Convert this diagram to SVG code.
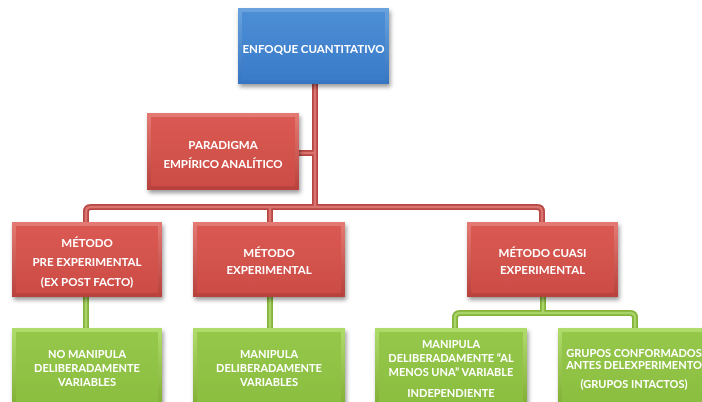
<svg xmlns="http://www.w3.org/2000/svg" width="702" height="402" viewBox="0 0 702 402">
<style>
text{font-family:Lato,"Liberation Sans",sans-serif;font-weight:bold;fill:#fff;text-anchor:middle;dominant-baseline:central}
.t{font-size:11.5px}
.s{font-size:11px}
.redline{fill:none;stroke:#b84743;stroke-width:6;stroke-linejoin:round}
.redin{fill:none;stroke:#d97470;stroke-width:2.5;stroke-linejoin:round}
.grnline{fill:none;stroke:#86b33a;stroke-width:6;stroke-linejoin:round}
.grnin{fill:none;stroke:#a9d46a;stroke-width:2.5;stroke-linejoin:round}
</style>
<defs>
<linearGradient id="gb" x1="0" y1="0" x2="0" y2="1"><stop offset="0" stop-color="#6aa3de"/><stop offset="1" stop-color="#3575c2"/></linearGradient>
<linearGradient id="gbf" x1="0" y1="0" x2="0" y2="1"><stop offset="0" stop-color="#4d8ed6"/><stop offset="1" stop-color="#3a7bc8"/></linearGradient>
<linearGradient id="gr" x1="0" y1="0" x2="0" y2="1"><stop offset="0" stop-color="#e57a74"/><stop offset="1" stop-color="#b8413c"/></linearGradient>
<linearGradient id="grf" x1="0" y1="0" x2="0" y2="1"><stop offset="0" stop-color="#da5a53"/><stop offset="1" stop-color="#cc4c46"/></linearGradient>
<linearGradient id="gg" x1="0" y1="0" x2="0" y2="1"><stop offset="0" stop-color="#b0dc6c"/><stop offset="1" stop-color="#7fae34"/></linearGradient>
<linearGradient id="ggf" x1="0" y1="0" x2="0" y2="1"><stop offset="0" stop-color="#95c74a"/><stop offset="1" stop-color="#8abd3f"/></linearGradient>
<filter id="sh" x="-10%" y="-10%" width="130%" height="140%"><feDropShadow dx="1.5" dy="3" stdDeviation="2" flood-color="#000" flood-opacity="0.4"/></filter>
</defs>
<g id="connectors">
<path class="redline" d="M315,84V207M299,153H315M86,222V212Q86,207 91,207H537Q542,207 542,212V222M270,207V222"/>
<path class="redin" d="M315,84V207M299,153H315M86,222V212Q86,207 91,207H537Q542,207 542,212V222M270,207V222"/>
<path class="grnline" d="M86,297V328M270,297V328M543,297V313M455,328V318Q455,313 460,313H630Q635,313 635,318V328"/>
<path class="grnin" d="M86,297V328M270,297V328M543,297V313M455,328V318Q455,313 460,313H630Q635,313 635,318V328"/>
</g>
<g id="enfoque" filter="url(#sh)">
<rect x="238" y="8" width="151" height="76" fill="url(#gb)"/>
<rect x="242" y="12" width="143" height="68" fill="url(#gbf)"/>
<text class="t" x="313.5" y="48">ENFOQUE CUANTITATIVO</text>
</g>
<g id="paradigma" filter="url(#sh)">
<rect x="147" y="113" width="152" height="77" fill="url(#gr)"/>
<rect x="151" y="117" width="144" height="69" fill="url(#grf)"/>
<text class="t" x="223" y="144">PARADIGMA</text>
<text class="t" x="223" y="163">EMPÍRICO ANALÍTICO</text>
</g>
<g id="pre" filter="url(#sh)">
<rect x="12" y="222" width="150" height="75" fill="url(#gr)"/>
<rect x="16" y="226" width="142" height="67" fill="url(#grf)"/>
<text class="t" x="87" y="242">MÉTODO</text>
<text class="t" x="87" y="261">PRE EXPERIMENTAL</text>
<text class="t" x="87" y="281">(EX POST FACTO)</text>
</g>
<g id="experimental" filter="url(#sh)">
<rect x="193" y="222" width="152" height="75" fill="url(#gr)"/>
<rect x="197" y="226" width="144" height="67" fill="url(#grf)"/>
<text class="t" x="269" y="252">MÉTODO</text>
<text class="t" x="269" y="269">EXPERIMENTAL</text>
</g>
<g id="cuasi" filter="url(#sh)">
<rect x="467" y="222" width="151" height="75" fill="url(#gr)"/>
<rect x="471" y="226" width="143" height="67" fill="url(#grf)"/>
<text class="t" x="542.5" y="252">MÉTODO CUASI</text>
<text class="t" x="542.5" y="269">EXPERIMENTAL</text>
</g>
<g id="nomanipula" filter="url(#sh)">
<rect x="12" y="328" width="150" height="80" fill="url(#gg)"/>
<rect x="16" y="332" width="142" height="80" fill="url(#ggf)"/>
<text class="s" x="87" y="353">NO MANIPULA</text>
<text class="s" x="87" y="367">DELIBERADAMENTE</text>
<text class="s" x="87" y="381">VARIABLES</text>
</g>
<g id="manipula" filter="url(#sh)">
<rect x="193" y="328" width="152" height="80" fill="url(#gg)"/>
<rect x="197" y="332" width="144" height="80" fill="url(#ggf)"/>
<text class="s" x="269" y="353">MANIPULA</text>
<text class="s" x="269" y="367">DELIBERADAMENTE</text>
<text class="s" x="269" y="381">VARIABLES</text>
</g>
<g id="almenos" filter="url(#sh)">
<rect x="375" y="328" width="152" height="80" fill="url(#gg)"/>
<rect x="379" y="332" width="144" height="80" fill="url(#ggf)"/>
<text class="s" x="451" y="343">MANIPULA</text>
<text class="s" x="451" y="357">DELIBERADAMENTE “AL</text>
<text class="s" x="451" y="371">MENOS UNA” VARIABLE</text>
<text class="s" x="451" y="392">INDEPENDIENTE</text>
</g>
<g id="grupos" filter="url(#sh)">
<rect x="558" y="328" width="152" height="80" fill="url(#gg)"/>
<rect x="562" y="332" width="144" height="80" fill="url(#ggf)"/>
<text class="s" x="634" y="352">GRUPOS CONFORMADOS</text>
<text class="s" x="634" y="364">ANTES DELEXPERIMENTO</text>
<text class="s" x="634" y="383">(GRUPOS INTACTOS)</text>
</g>
</svg>
